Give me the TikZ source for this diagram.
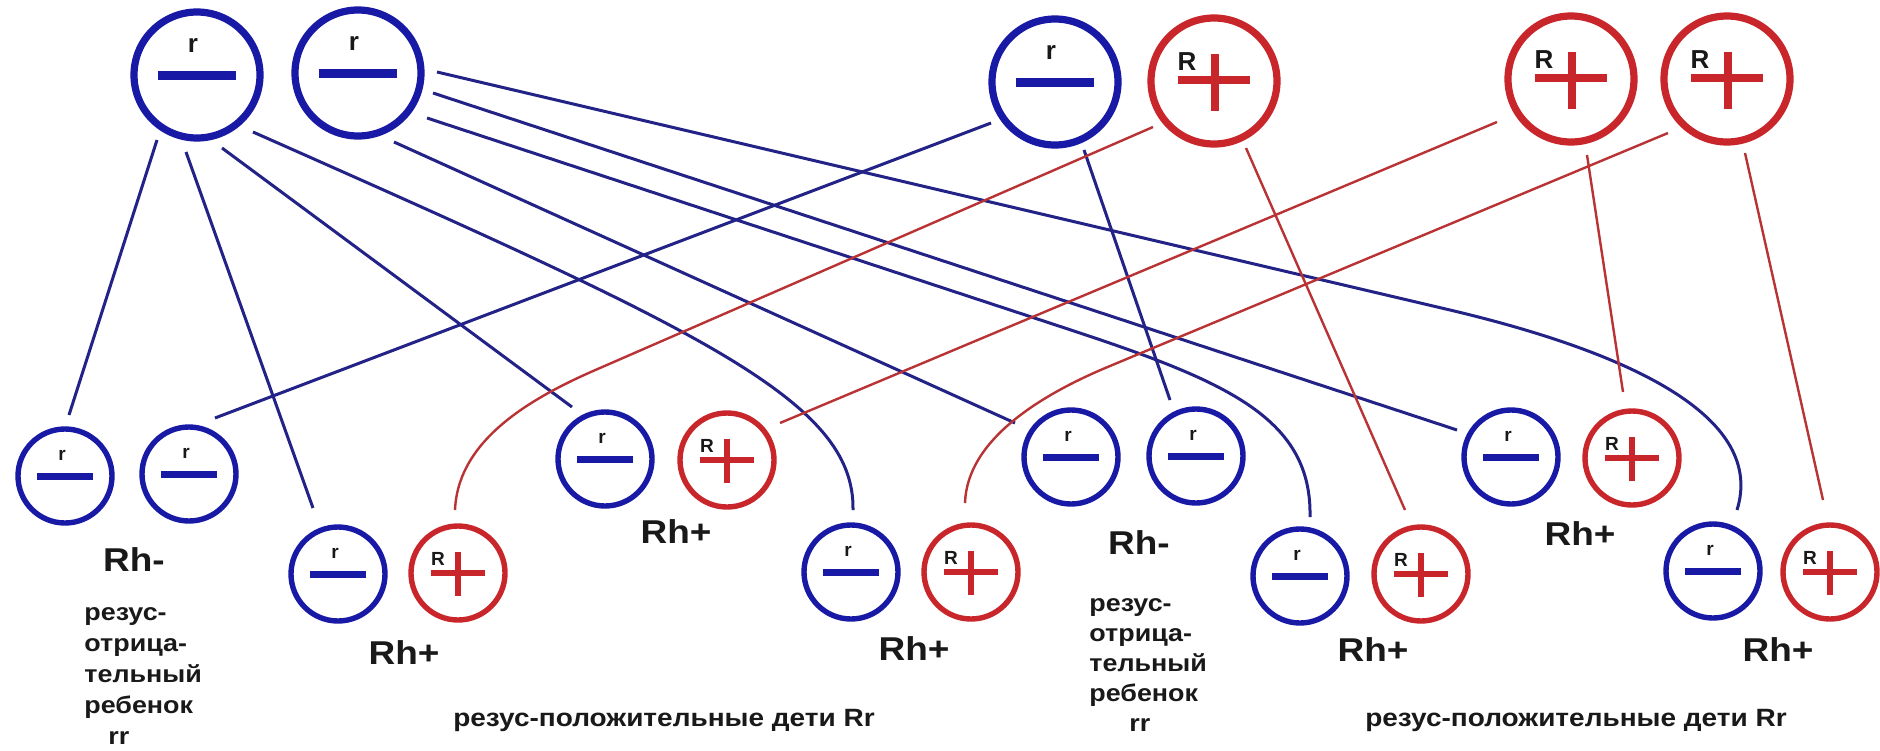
\documentclass[tikz,border=0pt]{standalone}
\usepackage{fontspec}
\setmainfont{Liberation Sans}
\newfontfamily\labfont{Liberation Sans}[FakeStretch=1.12]
\usetikzlibrary{calc}
\definecolor{cblue}{RGB}{24,26,165}
\definecolor{cred}{RGB}{200,38,42}
\definecolor{lblue}{RGB}{34,34,135}
\definecolor{lred}{RGB}{185,50,52}
\definecolor{ink}{RGB}{25,25,25}
\tikzset{
  negT/.style={circle, draw=cblue, line width=3.6pt, minimum size=63pt, inner sep=0pt},
  posT/.style={circle, draw=cred, line width=3.6pt, minimum size=63pt, inner sep=0pt},
  negB/.style={circle, draw=cblue, line width=2.7pt, minimum size=47pt, inner sep=0pt},
  posB/.style={circle, draw=cred, line width=2.7pt, minimum size=47pt, inner sep=0pt},
  barT/.style={cblue, line width=4.5pt},
  barB/.style={cblue, line width=3.5pt},
  plusT/.style={cred, line width=4pt},
  plusB/.style={cred, line width=3pt},
  letT/.style={inner sep=0pt, anchor=base, text=ink, font=\bfseries\fontsize{13pt}{13pt}\selectfont},
  letB/.style={inner sep=0pt, anchor=base, text=ink, font=\bfseries\fontsize{9.5pt}{10pt}\selectfont},
  bl/.style={lblue, line width=1.5pt},
  rl/.style={lred, line width=1.2pt},
  rh/.style={inner sep=0pt, text=ink, font=\labfont\bfseries\fontsize{16.5pt}{18pt}\selectfont},
  note/.style={inner sep=0pt, text=ink, align=left, anchor=north west, font=\labfont\bfseries\fontsize{12pt}{15.5pt}\selectfont},
  capt/.style={inner sep=0pt, text=ink, font=\labfont\bfseries\fontsize{12.5pt}{14pt}\selectfont},
}
\newcommand{\mknegT}[3]{%
  \node[negT] (#1) at (#2,#3) {};
  \draw[barT] ($(#1)+(-39,0)$) -- ($(#1)+(39,0)$);
  \node[letT] at ($(#1)+(-4,-23)$) {r};}
\newcommand{\mkposT}[3]{%
  \node[posT] (#1) at (#2,#3) {};
  \draw[plusT] ($(#1)+(-36,-1)$) -- ($(#1)+(36,-1)$);
  \draw[plusT] ($(#1)+(1,-27)$) -- ($(#1)+(1,30)$);
  \node[letT] at ($(#1)+(-27,-11)$) {R};}
\newcommand{\mknegB}[3]{%
  \node[negB] (#1) at (#2,#3) {};
  \draw[barB] ($(#1)+(-28,0)$) -- ($(#1)+(28,0)$);
  \node[letB] at ($(#1)+(-3,-16)$) {r};}
\newcommand{\mkposB}[3]{%
  \node[posB] (#1) at (#2,#3) {};
  \draw[plusB] ($(#1)+(-27,0)$) -- ($(#1)+(27,0)$);
  \draw[plusB] ($(#1)+(0,-21)$) -- ($(#1)+(0,23)$);
  \node[letB] at ($(#1)+(-20,-8)$) {R};}
\begin{document}
\begin{tikzpicture}[x=0.5pt,y=-0.5pt]
\fill[white] (0,0) rectangle (1880,750);
\useasboundingbox (0,0) rectangle (1880,750);
% parents
\mknegT{T1}{197}{75}
\mknegT{T2}{358}{73}
\mknegT{T3}{1055}{82}
\mkposT{T4}{1214}{81}
\mkposT{T5}{1571}{79}
\mkposT{T6}{1727}{79}
% children
\mknegB{a1}{65}{476}
\mknegB{a2}{189}{474}
\mknegB{b1}{338}{574}
\mkposB{b2}{458}{573}
\mknegB{c1}{605}{459}
\mkposB{c2}{727}{460}
\mknegB{d1}{851}{572}
\mkposB{d2}{971}{572}
\mknegB{e1}{1071}{457}
\mknegB{e2}{1196}{456}
\mknegB{f1}{1300}{576}
\mkposB{f2}{1421}{574}
\mknegB{g1}{1511}{457}
\mkposB{g2}{1632}{458}
\mknegB{h1}{1713}{571}
\mkposB{h2}{1830}{572}
% blue connectors
\draw[bl] ($(T1)+(-40,65)$) -- ($(a1)+(4,-61)$);
\draw[bl] ($(T1)+(-11,77)$) -- ($(b1)+(-25,-66)$);
\draw[bl] ($(T1)+(25,73)$) -- ($(c1)+(-33,-52)$);
\draw[bl] ($(T1)+(56,57)$) .. controls (700,330) and (855,400) .. ($(d1)+(2,-62)$);
\draw[bl] ($(T2)+(36,69)$) -- ($(e1)+(-56,-34)$);
\draw[bl] ($(T2)+(69,45)$) -- (1080,333) .. controls (1230,383) and (1312,420) .. ($(f1)+(10,-59)$);
\draw[bl] ($(T2)+(75,20)$) -- ($(g1)+(-54,-27)$);
\draw[bl] ($(T2)+(79,-1)$) -- (1450,310) .. controls (1640,355) and (1765,420) .. ($(h1)+(24,-61)$);
\draw[bl] ($(T3)+(-64,41)$) -- ($(a2)+(26,-56)$);
\draw[bl] ($(T3)+(29,68)$) -- ($(e2)+(-26,-56)$);
% red connectors
\draw[rl] ($(T4)+(-61,46)$) -- (600,368) .. controls (530,398) and (458,440) .. ($(b2)+(-3,-63)$);
\draw[rl] ($(T4)+(32,67)$) -- ($(f2)+(-16,-64)$);
\draw[rl] ($(T5)+(-74,43)$) -- ($(c2)+(53,-37)$);
\draw[rl] ($(T5)+(16,76)$) -- ($(g2)+(-9,-66)$);
\draw[rl] ($(T6)+(-59,54)$) -- (1110,366) .. controls (1040,395) and (967,440) .. ($(d2)+(-6,-69)$);
\draw[rl] ($(T6)+(18,74)$) -- ($(h2)+(-7,-72)$);
% labels
\node[rh] (LA) at (134,560) {Rh-};
\node[rh] (LB) at (404,653) {Rh+};
\node[rh] (LC) at (676,532) {Rh+};
\node[rh] (LD) at (914,649) {Rh+};
\node[rh] (LE) at (1139,543) {Rh-};
\node[rh] (LF) at (1373,650) {Rh+};
\node[rh] (LG) at (1580,534) {Rh+};
\node[rh] (LH) at (1778,650) {Rh+};
\node[note] (NA) at (84,607) {резус-\\отрица-\\тельный\\ребенок\\\hspace*{12pt}rr};
\node[note, font=\labfont\bfseries\fontsize{12pt}{15pt}\selectfont] (NE) at (1089,598) {резус-\\отрица-\\тельный\\ребенок\\\hspace*{20pt}rr};
\node[capt] (P1) at (664,720) {резус-положительные дети Rr};
\node[capt] (P2) at (1576,720) {резус-положительные дети Rr};
\end{tikzpicture}
\end{document}
